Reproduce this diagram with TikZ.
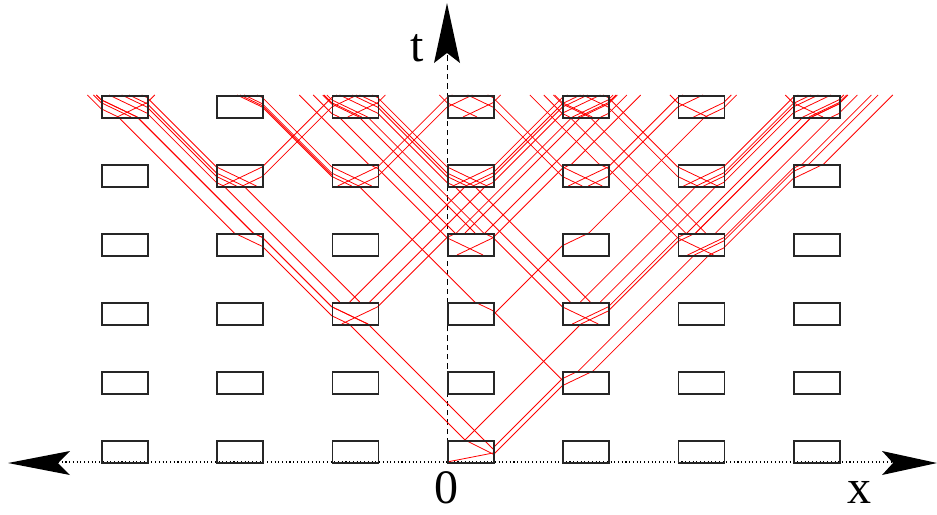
\documentclass[tikz,border=0pt]{standalone}
\usepackage{fontspec}
\setmainfont{Liberation Serif}
\newcommand\traceray[3]{%
  \xdef\rx{#1}\xdef\ry{#2}\xdef\rs{#3}%
  \xdef\rpath{(\rx,\ry)}%
  \foreach \j in {0,...,5}{%
    \pgfmathsetmacro\rT{440-69*\j}%
    \ifdim \ry pt > \rT pt\relax
      \pgfmathsetmacro\rB{\rT+22}%
      \pgfmathsetmacro\ryo{min(\ry,\rB)}%
      \pgfmathsetmacro\rxb{\rx+\rs*(\ry-\ryo)}%
      \pgfmathsetmacro\rhh{\ryo-\rT}%
      \pgfmathsetmacro\rci{floor((\rxb-447)/115.3)}%
      \pgfmathsetmacro\roff{\rxb-447-115.3*\rci}%
      \def\rhit{0}%
      \ifdim \roff pt < 46.01pt\relax
        \ifdim \rci pt > -3.5pt\relax \ifdim \rci pt < 3.5pt\relax
          \def\rhit{1}\let\rk\rci \let\rxe\rxb \let\rye\ryo
        \fi\fi
      \else
        \ifdim \rs pt > 0pt\relax
          \pgfmathsetmacro\rdd{115.3-\roff}%
          \pgfmathsetmacro\rkn{\rci+1}%
          \ifdim \rdd pt < \rhh pt\relax
            \ifdim \rkn pt > -3.5pt\relax \ifdim \rkn pt < 3.5pt\relax
              \def\rhit{1}\let\rk\rkn
              \pgfmathsetmacro\rxe{\rxb+\rdd}\pgfmathsetmacro\rye{\ryo-\rdd}%
            \fi\fi
          \fi
        \else
          \pgfmathsetmacro\rdd{\roff-46}%
          \ifdim \rdd pt < \rhh pt\relax
            \ifdim \rci pt > -3.5pt\relax \ifdim \rci pt < 3.5pt\relax
              \def\rhit{1}\let\rk\rci
              \pgfmathsetmacro\rxe{\rxb-\rdd}\pgfmathsetmacro\rye{\ryo-\rdd}%
            \fi\fi
          \fi
        \fi
      \fi
      \ifnum\rhit=1
        \pgfmathsetmacro\rbL{447+115.3*\rk}%
        \ifdim \rs pt > 0pt\relax
          \pgfmathsetmacro\rdx{\rbL+46-\rxe}%
        \else
          \pgfmathsetmacro\rdx{\rxe-\rbL}%
        \fi
        \pgfmathsetmacro\rrise{0.478*\rdx}%
        \pgfmathsetmacro\rroom{\rye-\rT}%
        \ifdim \rrise pt < \rroom pt\relax
          \pgfmathsetmacro\rxs{\rxe+\rs*\rdx}%
          \pgfmathsetmacro\rys{\rye-\rrise}%
          \pgfmathsetmacro\rxt{\rxs+\rs*(\rys-\rT)}%
          \xdef\rpath{\rpath (\rxe,\rye) (\rxs,\rys) (\rxt,\rT)}%
          \xdef\rx{\rxt}%
        \else
          \pgfmathsetmacro\rxt{\rxe+\rs*\rroom/0.478}%
          \xdef\rpath{\rpath (\rxe,\rye) (\rxt,\rT)}%
          \xdef\rx{\rxt}%
        \fi
      \else
        \pgfmathsetmacro\rxt{\rxb+\rs*\rhh}%
        \xdef\rpath{\rpath (\rxt,\rT)}%
        \xdef\rx{\rxt}%
      \fi
      \xdef\ry{\rT}%
    \fi
  }%
  \draw[ray] plot coordinates {\rpath};%
}
% rays spawned in a box whose left edge is #1 and top #2
\newcommand\spawnmix[2]{%
  \pgfmathsetmacro\pb{#2+22}%
  \pgfmathsetmacro\pa{#1+36}\pgfmathsetmacro\pc{#1+10}%
  \traceray{\pa}{\pb}{-1}\traceray{\pc}{\pb}{1}%
  \pgfmathsetmacro\pa{#1+8}\pgfmathsetmacro\pc{#1+28}%
  \pgfmathsetmacro\pd{#1+18}\pgfmathsetmacro\pe{#1+38}%
  \traceray{\pa}{#2}{-1}\traceray{\pc}{#2}{-1}%
  \traceray{\pd}{#2}{1}\traceray{\pe}{#2}{1}}
\newcommand\spawnfour[2]{%
  \pgfmathsetmacro\pa{#1+40}\pgfmathsetmacro\pb{#1+20}%
  \pgfmathsetmacro\pc{#1+6}\pgfmathsetmacro\pd{#1+26}%
  \traceray{\pa}{#2}{-1}\traceray{\pb}{#2}{-1}%
  \traceray{\pc}{#2}{1}\traceray{\pd}{#2}{1}}
\newcommand\spawntwo[2]{%
  \pgfmathsetmacro\pa{#1+30}\pgfmathsetmacro\pb{#1+16}%
  \traceray{\pa}{#2}{-1}\traceray{\pb}{#2}{1}}
\begin{document}
\begin{tikzpicture}[x=0.75pt,y=-0.75pt,
  cell/.style={draw=black!85,line width=1.3pt},
  ray/.style={draw=red,line width=0.6pt},
  head/.style={fill=black},
  lab/.style={font=\fontsize{36}{40}\selectfont,inner sep=0pt}]
\useasboundingbox (0,0) rectangle (937,514);
% axes
\coordinate (xl) at (58,462);
\coordinate (xr) at (893,462);
\coordinate (tb) at (447,462);
\coordinate (tt) at (447,53);
\draw[dotted,line width=0.8pt] (xl) -- (xr);
\draw[dashed,line width=0.7pt,dash pattern=on 4pt off 3pt] (tb) -- (tt);
\fill[head] (8,463) -- (70,451) -- (58,463) -- (70,475) -- cycle;
\fill[head] (937,463) -- (882,451) -- (893,463) -- (882,475) -- cycle;
\fill[head] (447,3) -- (434,63) -- (447,53) -- (460,63) -- cycle;
\node[lab] (tl) at (417,48) {t};
\node[lab,anchor=base] (zl) at (446,503) {0};
\node[lab,anchor=base] (xlab) at (859,503) {x};
% rays from the origin
\draw[ray] (447,462) -- (493,453);
\draw[ray] (493,454) -- (465,440);
\draw[ray] (493,449) -- (484,440);
\traceray{465}{440}{-1}
\traceray{484}{440}{-1}
\traceray{465}{440}{1}
\traceray{493}{448}{1}
\traceray{493}{455}{1}
% reflections in boxes (1,1), (0,2) and (-1,4)
\traceray{562.3}{380}{-1}
\traceray{493}{315}{1}
\traceray{331.7}{175}{-1}
% branches, row 2
\spawnmix{331.7}{302}
\spawnmix{562.3}{302}
% row 3
\spawnmix{447}{233}
\spawnmix{677.6}{233}
% row 4
\foreach \L in {216.4,331.7,447,562.3,677.6}{\spawnfour{\L}{186}}
% row 5
\foreach \L in {101.1,331.7,447,562.3,677.6,792.9}{\spawntwo{\L}{117}}
% boxes
\foreach \i in {-3,...,3}{
  \foreach \j in {0,...,5}{
    \node[cell,minimum width=34.5pt,minimum height=16.5pt,inner sep=0pt,anchor=north west]
      (b\i\j) at ({447+115.3*\i},{440-69*\j}) {};
  }
}
\end{tikzpicture}
\end{document}
